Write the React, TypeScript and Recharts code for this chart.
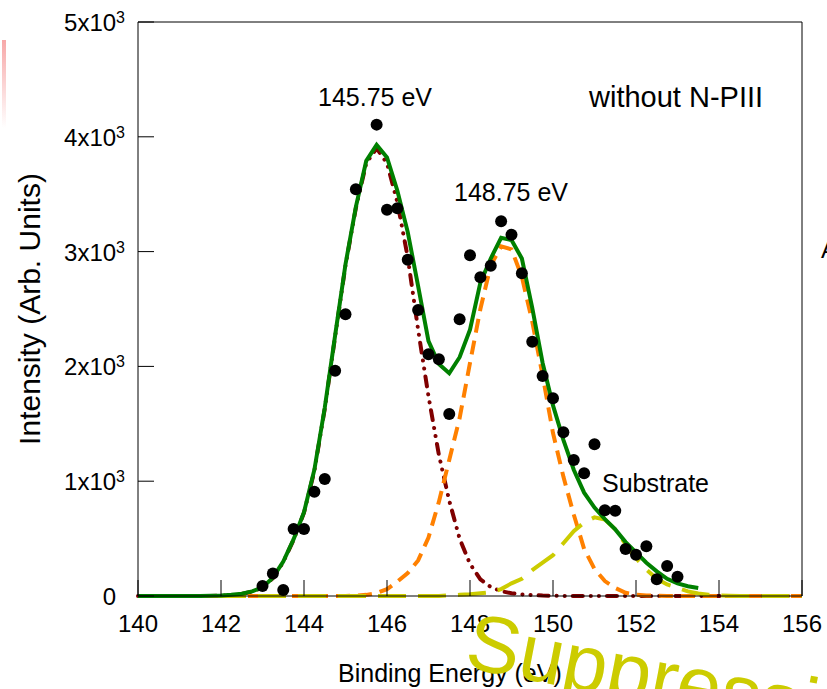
import React from 'react'
import { ComposedChart, Line, Scatter, XAxis, YAxis } from 'recharts'

// measured XPS points (binding energy in eV, intensity in arb. units)
const dotEnergy = [
  143, 143.25, 143.5, 143.75, 144, 144.25, 144.5, 144.75, 145, 145.25, 145.75, 146, 146.25, 146.5,
  146.75, 147, 147.25, 147.5, 147.75, 148, 148.25, 148.5, 148.75, 149, 149.25, 149.5, 149.75, 150,
  150.25, 150.5, 150.75, 151, 151.25, 151.5, 151.75, 152, 152.25, 152.5, 152.75, 153,
]
const dotIntensity = [
  87, 197, 52, 584, 584, 909, 1019, 1963, 2454, 3543, 4106, 3365, 3377, 2930, 2491, 2105, 2062, 1585,
  2410, 2968, 2776, 2877, 3264, 3147, 2811, 2215, 1916, 1722, 1426, 1185, 1069, 1321, 746, 743, 409,
  360, 433, 145, 261, 168,
]

// energy grid of the fitted curves
const fitEnergy = [
  140, 140.25, 140.5, 140.75, 141, 141.25, 141.5, 141.75, 142, 142.25, 142.5, 142.75, 143, 143.25,
  143.5, 143.75, 144, 144.25, 144.5, 144.75, 145, 145.25, 145.5, 145.75, 146, 146.25, 146.5, 146.75,
  147, 147.25, 147.5, 147.75, 148, 148.25, 148.5, 148.75, 149, 149.25, 149.5, 149.75, 150, 150.25,
  150.5, 150.75, 151, 151.25, 151.5, 151.75, 152, 152.25, 152.5, 152.75, 153, 153.25, 153.5, 153.75,
  154, 154.25, 154.5, 154.75, 155, 155.25, 155.5, 155.75, 156,
]
// component at 145.75 eV
const peak1 = [
  0, 0, 0, 0, 0, 0, 0, 1, 3, 8, 18, 38, 75, 155, 295, 490, 725, 1090, 1630, 2260, 2880, 3380, 3770,
  3900, 3770, 3430, 2950, 2320, 1740, 1230, 830, 500, 280, 145, 78, 42, 24, 14, 8, 4, 2, 1, 0, 0, 0,
  0, 0, 0, 0, 0, 0, 0, 0, 0, 0, 0, 0, 0, 0, 0, 0, 0, 0, 0, 0,
]
// component at 148.75 eV
const peak2 = [
  0, 0, 0, 0, 0, 0, 0, 0, 0, 0, 0, 0, 0, 0, 0, 0, 0, 0, 0, 0, 1, 4, 10, 25, 60, 125, 200, 310, 510,
  820, 1185, 1550, 2030, 2500, 2880, 3045, 3020, 2780, 2390, 1920, 1420, 1040, 710, 410, 235, 130, 70,
  28, 12, 5, 2, 0, 0, 0, 0, 0, 0, 0, 0, 0, 0, 0, 0, 0, 0,
]
// substrate contribution
const substrate = [
  0, 0, 0, 0, 0, 0, 0, 0, 0, 0, 0, 0, 0, 0, 0, 0, 0, 0, 0, 0, 0, 0, 0, 0, 0, 0, 0, 0, 0, 0, 5, 10, 15,
  23, 32, 60, 110, 150, 225, 290, 355, 460, 565, 640, 685, 665, 580, 450, 330, 230, 150, 100, 70, 40,
  22, 12, 6, 3, 0, 0, 0, 0, 0, 0, 0,
]
// total fit, drawn up to 153.5 eV
const envelope = [
  0, 0, 0, 0, 0, 0, 0, 2, 5, 10, 20, 40, 75, 160, 300, 495, 730, 1100, 1640, 2270, 2890, 3390, 3790,
  3930, 3820, 3530, 3170, 2700, 2220, 2020, 1940, 2080, 2320, 2730, 2940, 3120, 3100, 2940, 2510, 2030,
  1660, 1360, 1100, 900, 770, 670, 580, 470, 380, 290, 215, 150, 110, 85, 70,
]

const xTicks = [140, 142, 144, 146, 148, 150, 152, 154, 156]
const yTicks = [0, 1000, 2000, 3000, 4000, 5000]

const pts = (ys: number[]) => ys.map((y, i) => ({ x: fitEnergy[i], y }))
const dots = dotEnergy.map((x, i) => ({ x, y: dotIntensity[i] }))

const FONT = '"Liberation Sans", Arial, sans-serif'
const BLACK = { stroke: '#000', strokeWidth: 1 }

function YTick({ x, y, payload }: any) {
  const v = payload.value
  if (v === 0) {
    return (
      <text x={x - 9} y={y} dy={9} textAnchor="end" fontSize={24} fill="#000" fontFamily={FONT}>
        0
      </text>
    )
  }
  return (
    <text x={x} y={y} dy={9} textAnchor="end" fontSize={24} fill="#000" fontFamily={FONT}>
      {v / 1000}x10
      <tspan dy={-8} fontSize={16}>3</tspan>
    </text>
  )
}

const Dot = (p: any) => <circle cx={p.cx} cy={p.cy} r={6} fill="#000" />

export default function App() {
  return (
    <div style={{ position: 'absolute', left: 0, top: 0, width: 827, height: 689, background: '#fff' }}>
      <ComposedChart
        width={827}
        height={689}
        margin={{ top: 21, right: 24, bottom: 0, left: 0 }}
        style={{ fontFamily: FONT }}
      >
        <XAxis
          xAxisId="b"
          dataKey="x"
          type="number"
          domain={[140, 156]}
          ticks={xTicks}
          interval={0}
          height={93}
          tickSize={-16}
          tickMargin={35}
          axisLine={BLACK}
          tickLine={BLACK}
          tick={{ fontSize: 24, fill: '#000' }}
        />
        <XAxis
          xAxisId="t"
          orientation="top"
          dataKey="x"
          type="number"
          domain={[140, 156]}
          ticks={xTicks}
          interval={0}
          height={1}
          tickSize={-16}
          axisLine={BLACK}
          tickLine={BLACK}
          tick={false}
        />
        <YAxis
          yAxisId="l"
          type="number"
          domain={[0, 5000]}
          ticks={yTicks}
          interval={0}
          width={138}
          tickSize={-16}
          tickMargin={29}
          axisLine={BLACK}
          tickLine={BLACK}
          tick={<YTick />}
        />
        <YAxis
          yAxisId="r"
          orientation="right"
          type="number"
          domain={[0, 5000]}
          ticks={yTicks}
          interval={0}
          width={1}
          tickSize={-16}
          axisLine={BLACK}
          tickLine={BLACK}
          tick={false}
        />
        {/* invisible series so the top and right frame axes get drawn */}
        <Line
          xAxisId="t"
          yAxisId="r"
          data={pts(envelope)}
          dataKey="y"
          stroke="none"
          dot={false}
          activeDot={false}
          isAnimationActive={false}
        />
        <Line
          xAxisId="b"
          yAxisId="l"
          data={pts(peak1)}
          dataKey="y"
          type="linear"
          stroke="#800000"
          strokeWidth={4}
          strokeDasharray="10 8 0.1 8 0.1 8"
          strokeLinecap="round"
          dot={false}
          activeDot={false}
          isAnimationActive={false}
        />
        <Line
          xAxisId="b"
          yAxisId="l"
          data={pts(peak2)}
          dataKey="y"
          type="linear"
          stroke="#ff8000"
          strokeWidth={4}
          strokeDasharray="14 8"
          dot={false}
          activeDot={false}
          isAnimationActive={false}
        />
        <Line
          xAxisId="b"
          yAxisId="l"
          data={pts(substrate)}
          dataKey="y"
          type="linear"
          stroke="#cccc00"
          strokeWidth={4}
          strokeDasharray="28 12"
          dot={false}
          activeDot={false}
          isAnimationActive={false}
        />
        <Line
          xAxisId="b"
          yAxisId="l"
          data={pts(envelope)}
          dataKey="y"
          type="linear"
          stroke="#008000"
          strokeWidth={4}
          dot={false}
          activeDot={false}
          isAnimationActive={false}
        />
        <Scatter
          xAxisId="b"
          yAxisId="l"
          data={dots}
          dataKey="y"
          shape={<Dot />}
          isAnimationActive={false}
        />
      </ComposedChart>
      <svg
        width={827}
        height={689}
        style={{ position: 'absolute', left: 0, top: 0, pointerEvents: 'none', fontFamily: FONT }}
      >
        <defs>
          <linearGradient id="pink" x1="0" y1="0" x2="0" y2="1">
            <stop offset="0" stopColor="#f7a8a8" />
            <stop offset="1" stopColor="#ffffff" />
          </linearGradient>
        </defs>
        <rect x={2} y={40} width={4} height={88} fill="url(#pink)" />
        <text x={375} y={106} textAnchor="middle" fontSize={25}>145.75 eV</text>
        <text x={511} y={201} textAnchor="middle" fontSize={25}>148.75 eV</text>
        <text x={589} y={107} fontSize={29}>without N-PIII</text>
        <text x={602} y={492} fontSize={25}>Substrate</text>
        <text x={338} y={682} fontSize={25}>Binding Energy (eV)</text>
        <text x={40} y={309} textAnchor="middle" fontSize={30} transform="rotate(-90 40 309)">
          Intensity (Arb. Units)
        </text>
        <text x={821} y={258} fontSize={24}>A</text>
        <text x={463} y={667} fontSize={80} fill="#cccc00" transform="rotate(11 463 667)">
          Suppression
        </text>
      </svg>
    </div>
  )
}
